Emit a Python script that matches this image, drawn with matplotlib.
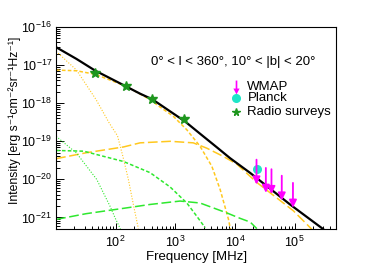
import numpy as np
import matplotlib
matplotlib.use("Agg")
import matplotlib.pyplot as plt
from matplotlib.path import Path
from matplotlib.ticker import LogLocator, NullFormatter

plt.rcParams['font.family'] = ['Liberation Sans', 'DejaVu Sans']
plt.rcParams['mathtext.fontset'] = 'custom'
plt.rcParams['mathtext.rm'] = 'Liberation Sans'
plt.rcParams['mathtext.it'] = 'Liberation Sans:italic'
plt.rcParams['mathtext.bf'] = 'Liberation Sans:bold'
plt.rcParams['lines.scale_dashes'] = False

# total model (black)
f_total = [10, 22, 45, 100, 256, 413, 1460, 2600, 5000, 8300, 18000, 84300, 3.0e5]
i_total = [2.95e-17, 1.45e-17, 7.2e-18, 3.8e-18, 1.78e-18, 1.26e-18, 3.3e-19,
           1.58e-19, 6.9e-20, 3.6e-20, 1.48e-20, 2.19e-21, 5.0e-22]

# orange short dash
f_sync = [10, 22, 45, 100, 151, 413, 490, 930, 1560, 2600, 4100, 5650, 7800, 8500]
i_sync = [7.4e-18, 7.1e-18, 5.75e-18, 3.55e-18, 2.75e-18, 1.15e-18, 9.1e-19,
          4.5e-19, 2.0e-19, 7.4e-20, 2.2e-20, 5.4e-21, 8.9e-22, 4.5e-22]

# orange dotted
f_sync_lo = [10, 22, 47, 78, 107, 132, 163, 200, 240]
i_sync_lo = [2.3e-17, 7.4e-18, 1.23e-18, 3.0e-19, 1.4e-19, 4.0e-20, 1.0e-20, 2.0e-21, 5.1e-22]

# orange long dash
f_sync_hi = [10, 32, 135, 256, 820, 2000, 3370, 6400, 10800, 23300, 95500, 195000]
i_sync_hi = [3.5e-20, 5.0e-20, 7.1e-20, 9.1e-20, 1.0e-19, 9.1e-20, 6.6e-20,
             4.0e-20, 2.5e-20, 8.3e-21, 1.5e-21, 4.9e-22]

# green dotted
f_g_dot = [10, 22, 48, 80, 100, 120]
i_g_dot = [1.35e-19, 4.9e-20, 1.0e-20, 2.0e-21, 9.0e-22, 5.0e-22]

# green short dash
f_g_short = [10, 29, 135, 378, 820, 1560, 2300, 3160]
i_g_short = [5.75e-20, 5.5e-20, 2.95e-20, 1.5e-20, 6.3e-21, 2.4e-21, 1.07e-21, 5.4e-22]

# green long dash
f_g_long = [10, 32, 135, 378, 1200, 2600, 7300, 12200, 18000, 23300]
i_g_long = [8.9e-22, 1.26e-21, 1.74e-21, 2.2e-21, 2.7e-21, 2.4e-21, 1.32e-21,
            9.5e-22, 7.6e-22, 5.1e-22]

# data
f_radio = [45, 150, 408, 1420]
i_radio = [6.1e-18, 2.9e-18, 1.3e-18, 3.8e-19]
f_wmap = [23000, 33000, 41000, 61000, 94000]
i_wmap = [3.3e-20, 2.0e-20, 1.85e-20, 1.25e-20, 8.1e-21]
f_planck = [23000]
i_planck = [1.86e-20]

x_ticks = [1e2, 1e3, 1e4, 1e5]
y_ticks = [1e-21, 1e-20, 1e-19, 1e-18, 1e-17, 1e-16]

orange = '#ffc81e'
green = '#2ee82e'
dkgreen = '#1e961e'
cyan = '#1ee6c8'

fig = plt.figure(figsize=(3.74, 2.70), dpi=100)
ax = fig.add_axes([0.150, 0.152, 0.749, 0.748])

ax.plot(f_sync_lo, i_sync_lo, color=orange, lw=0.8, dashes=(0.8, 1.2))
ax.plot(f_sync, i_sync, color=orange, lw=1.1, dashes=(2.6, 1.6))
ax.plot(f_sync_hi, i_sync_hi, color=orange, lw=1.1, dashes=(7.0, 2.6))
ax.plot(f_g_dot, i_g_dot, color=green, lw=0.8, dashes=(0.8, 1.2))
ax.plot(f_g_short, i_g_short, color=green, lw=1.1, dashes=(2.6, 1.6))
ax.plot(f_g_long, i_g_long, color=green, lw=1.1, dashes=(7.0, 2.6))
ax.plot(f_total, i_total, color='black', lw=1.6)

for f, v in zip(f_wmap, i_wmap):
    ax.annotate('', xy=(f, v * 0.222), xytext=(f, v),
                arrowprops=dict(arrowstyle='-|>,head_length=0.45,head_width=0.22',
                                color='magenta', lw=1.3, shrinkA=0, shrinkB=0))
ax.plot(f_planck, i_planck, 'o', color=cyan, ms=5.5, mec=cyan)
ax.plot(f_radio, i_radio, '*', color=dkgreen, ms=7.5, mec=dkgreen)

ax.set_xscale('log')
ax.set_yscale('log')
ax.set_xlim(10, 5e5)
ax.set_ylim(5e-22, 1e-16)
ax.set_xticks(x_ticks)
ax.set_yticks(y_ticks)
ax.xaxis.set_minor_locator(LogLocator(base=10, subs=np.arange(2, 10), numticks=20))
ax.yaxis.set_minor_locator(LogLocator(base=10, subs=np.arange(2, 10), numticks=20))
ax.xaxis.set_minor_formatter(NullFormatter())
ax.yaxis.set_minor_formatter(NullFormatter())
ax.tick_params(which='both', direction='in', top=False, right=False, labelsize=9, width=0.7)
ax.tick_params(axis='x', which='major', length=4.5, pad=4)
ax.tick_params(axis='x', which='minor', length=2.5)
ax.tick_params(axis='y', which='major', length=6, pad=3)
ax.tick_params(axis='y', which='minor', length=3)
for s in ax.spines.values():
    s.set_linewidth(0.8)

fig.text(197 / 374, 1 - 257 / 270, 'Frequency [MHz]', ha='center', va='center', fontsize=9.5)
fig.text(15 / 374, 1 - 120 / 270, 'Intensity [erg s⁻¹cm⁻²sr⁻¹Hz⁻¹]',
         rotation=90, ha='center', va='center', fontsize=8.8)

ax.text(0.339, 0.827, '0° < l < 360°, 10° < |b| < 20°', transform=ax.transAxes,
        ha='left', va='center', fontsize=9.5)

# legend
arrow = Path([(-0.12, 1), (0.12, 1), (0.12, -0.15), (0.45, -0.15), (0, -1),
              (-0.45, -0.15), (-0.12, -0.15), (-0.12, 1)],
             [Path.MOVETO] + [Path.LINETO] * 6 + [Path.CLOSEPOLY])
lx, tx = 0.642, 0.683
ax.plot([lx], [0.704], marker=arrow, color='magenta', ms=10, mew=0, transform=ax.transAxes, clip_on=False)
ax.plot([lx], [0.647], 'o', color=cyan, ms=5.5, transform=ax.transAxes, clip_on=False)
ax.plot([lx], [0.581], '*', color=dkgreen, ms=5.5, transform=ax.transAxes, clip_on=False)
ax.text(tx, 0.704, 'WMAP', transform=ax.transAxes, va='center', fontsize=9.5)
ax.text(tx, 0.647, 'Planck', transform=ax.transAxes, va='center', fontsize=9.5)
ax.text(tx, 0.581, 'Radio surveys', transform=ax.transAxes, va='center', fontsize=9.5)

fig.savefig('out.png', dpi=100)
